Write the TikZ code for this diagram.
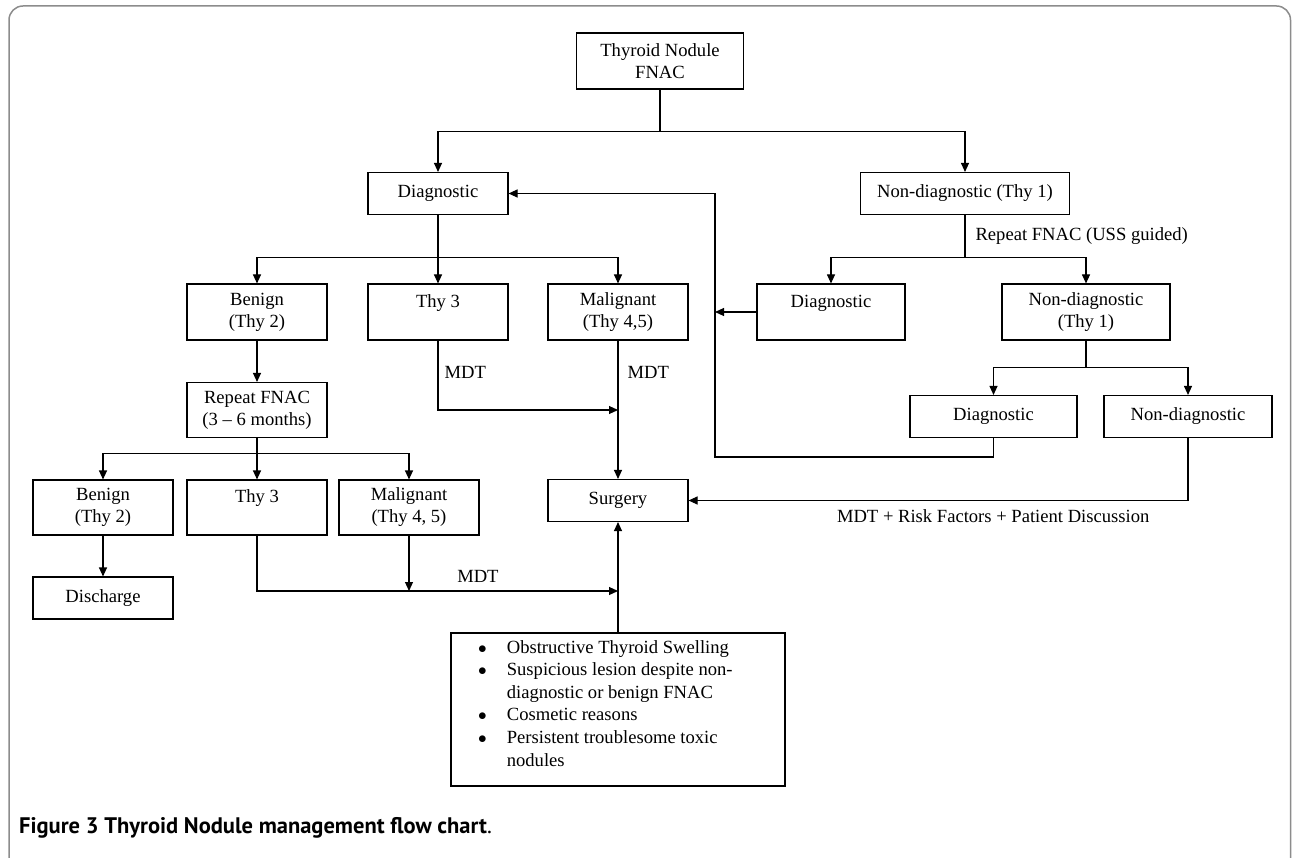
\documentclass[tikz,border=0pt]{standalone}
\usepackage{fontspec}
\setmainfont{Liberation Serif}
\newfontfamily\legendefont{PT Sans}
\usetikzlibrary{arrows.meta}
\definecolor{cadre}{gray}{0.55}

\begin{document}
\begin{tikzpicture}[x=1pt,y=-1pt]
	\tikzstyle{boite}=[draw,line width=1.1pt,inner sep=0pt,align=center,font=\fontsize{18.6}{22}\selectfont,minimum width=140pt]
	\tikzstyle{simple}=[boite,minimum height=42pt]
	\tikzstyle{double}=[boite,minimum height=56pt]
	\tikzstyle{fleche}=[line width=1.1pt]
	\tikzstyle{pointe}=[fleche,-{Triangle[length=9pt,width=8pt]}]
	\tikzstyle{etiquette}=[font=\fontsize{18.6}{22.6}\selectfont,inner sep=0pt]
	\def\NiveauB{193.5}\def\NiveauC{312}\def\NiveauD{507.5}
	\useasboundingbox (0,0) rectangle (1292,858);
	% cadre de la figure
	\draw[cadre,line width=1.5pt,rounded corners=14pt] (9,870) -- (9,6) -- (1290.5,6) -- (1290.5,870);
	% noeuds
	\node[double,minimum width=167pt] (Nodule) at (660,61) {Thyroid Nodule\\FNAC};
	\node[simple] (Diag) at (438,\NiveauB) {Diagnostic};
	\node[simple,minimum width=209pt] (NonDiag) at (965,\NiveauB) {Non-diagnostic (Thy 1)};
	\node[double] (Benin) at (257,\NiveauC) {Benign\\(Thy 2)};
	\node[double] (ThyA) at (438,\NiveauC) {Thy 3\\\mbox{}};
	\node[double] (Malin) at (618,\NiveauC) {Malignant\\(Thy 4,5)};
	\node[double,minimum width=148pt] (DiagB) at (831,\NiveauC) {Diagnostic\\\mbox{}};
	\node[double,minimum width=168pt] (NonDiagB) at (1086,\NiveauC) {Non-diagnostic\\(Thy 1)};
	\node[double,minimum height=55pt] (Repet) at (257,410) {Repeat FNAC\\(3 – 6 months)};
	\node[simple,minimum width=167pt] (DiagC) at (993.5,416.5) {Diagnostic};
	\node[simple,minimum width=168pt] (NonDiagC) at (1188,416.5) {Non-diagnostic};
	\node[simple] (Chirurgie) at (618,500.5) {Surgery};
	\node[double,minimum height=55pt] (BeninB) at (103,\NiveauD) {Benign\\(Thy 2)};
	\node[double,minimum height=55pt] (ThyB) at (257,\NiveauD) {Thy 3\\\mbox{}};
	\node[double,minimum height=55pt] (MalinB) at (409,\NiveauD) {Malignant\\(Thy 4, 5)};
	\node[simple] (Sortie) at (103,598) {Discharge};
	\node[boite,minimum width=334pt,minimum height=153pt] (Raisons) at (618,709.5) {};
	\node[etiquette,anchor=north west,align=left] (RaisonsTexte) at (478,637) {%
		\begin{tabular}{@{}l@{\hspace{20pt}}l@{}}
			$\bullet$ & Obstructive Thyroid Swelling\\
			$\bullet$ & Suspicious lesion despite non-\\
			& diagnostic or benign FNAC\\
			$\bullet$ & Cosmetic reasons\\
			$\bullet$ & Persistent troublesome toxic\\
			& nodules
		\end{tabular}};
	\coordinate (Retour) at (715,457);
	\coordinate (JonctionA) at (618,410);
	\coordinate (JonctionB) at (618,591);
	% liaisons
	\draw[fleche] (Nodule.south) -- ++(0,42) coordinate (EmbA);
	\draw[pointe] (EmbA) -| (Diag); \draw[pointe] (EmbA) -| (NonDiag);
	\draw[fleche] (Diag.south) -- ++(0,42.5) coordinate (EmbB);
	\draw[pointe] (EmbB) -| (Benin); \draw[pointe] (EmbB) -- (ThyA); \draw[pointe] (EmbB) -| (Malin);
	\draw[fleche] (NonDiag.south) -- ++(0,42.5) node[etiquette,midway,right=10pt] {Repeat FNAC (USS guided)} coordinate (EmbC);
	\draw[pointe] (EmbC) -| (DiagB); \draw[pointe] (EmbC) -| (NonDiagB);
	\draw[fleche] (NonDiagB.south) -- ++(0,27) coordinate (EmbD);
	\draw[pointe] (EmbD) -| (DiagC); \draw[pointe] (EmbD) -| (NonDiagC);
	\draw[pointe] (DiagC.south) |- (Retour) |- (Diag.east);
	\draw[pointe] (DiagB.west) -- (DiagB.west -| Retour);
	\draw[pointe] (ThyA.south) |- (JonctionA) node[etiquette,pos=0.23,right=6pt] {MDT};
	\draw[pointe] (Malin) -- (Chirurgie) node[etiquette,pos=0.23,right=9pt] {MDT};
	\draw[pointe] (Benin) -- (Repet);
	\draw[fleche] (Repet.south) -- ++(0,15) coordinate (EmbE);
	\draw[pointe] (EmbE) -| (BeninB); \draw[pointe] (EmbE) -- (ThyB); \draw[pointe] (EmbE) -| (MalinB);
	\draw[pointe] (BeninB) -- (Sortie);
	\draw[pointe] (ThyB.south) |- (JonctionB) node[etiquette,pos=0.806,above=7.5pt] {MDT};
	\draw[pointe] (MalinB) -- (MalinB |- JonctionB);
	\draw[pointe] (Raisons) -- (Chirurgie);
	\draw[pointe] (NonDiagC.south) |- (Chirurgie.east) node[etiquette,pos=0.695,below=9pt] {MDT + Risk Factors + Patient Discussion};
	% legende
	\node[anchor=west,inner sep=0pt,font=\legendefont\fontsize{22.5}{26}\selectfont] (Legende) at (19,828) {\textbf{Figure 3 Thyroid Nodule management flow chart}.};
\end{tikzpicture}
\end{document}
